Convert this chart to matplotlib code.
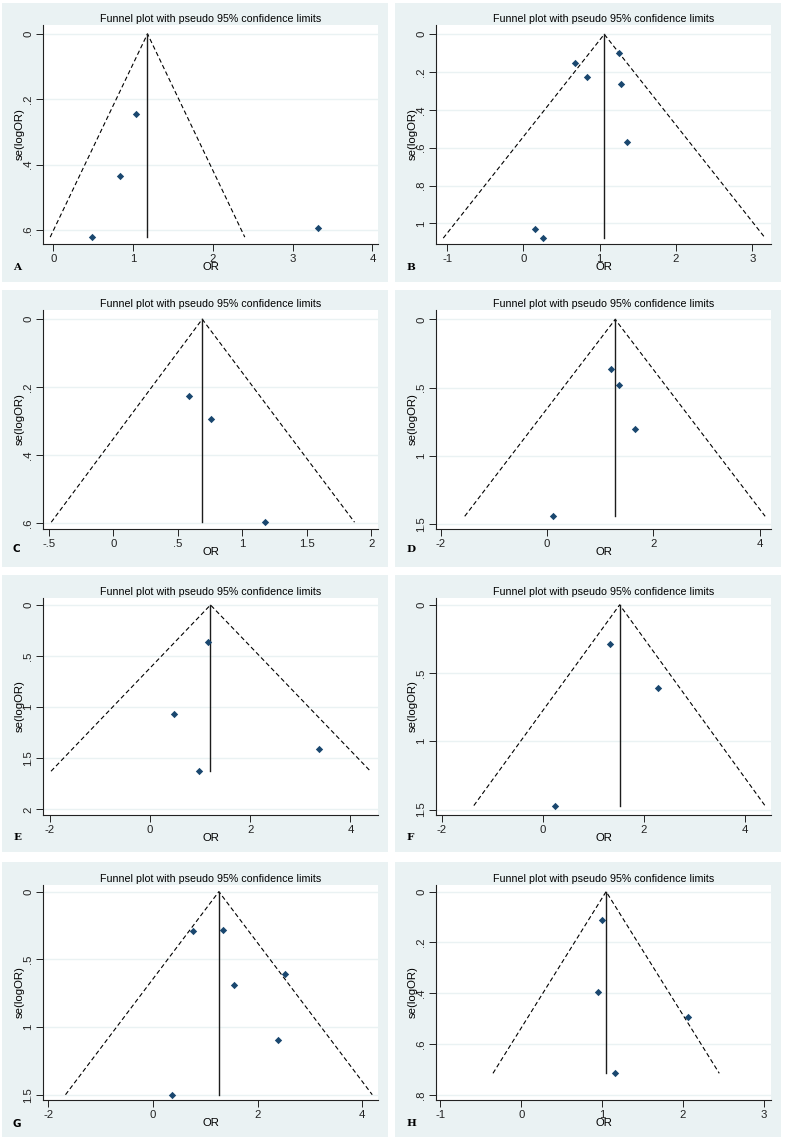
import numpy as np
import matplotlib
matplotlib.use("Agg")
import matplotlib.pyplot as plt
from matplotlib.patches import Rectangle
from matplotlib.ticker import FuncFormatter

plt.rcParams["font.family"] = ["Liberation Sans", "DejaVu Sans"]

# --- data (OR, se(logOR)) ---
a_or = [0.49, 0.84, 1.04, 3.32]
a_se = [0.622, 0.434, 0.246, 0.593]
b_or = [0.67, 0.84, 1.25, 1.28, 1.36, 0.15, 0.26]
b_se = [0.153, 0.226, 0.100, 0.261, 0.570, 1.032, 1.078]
c_or = [0.585, 0.76, 1.18]
c_se = [0.226, 0.293, 0.597]
d_or = [1.21, 1.35, 1.66, 0.11]
d_se = [0.366, 0.481, 0.800, 1.441]
e_or = [1.17, 0.49, 0.99, 3.38]
e_se = [0.365, 1.063, 1.627, 1.412]
f_or = [1.33, 2.28, 0.23]
f_se = [0.290, 0.609, 1.471]
g_or = [0.77, 1.33, 2.52, 1.55, 2.38, 0.37]
g_se = [0.290, 0.285, 0.607, 0.690, 1.096, 1.497]
h_or = [1.00, 0.95, 2.06, 1.16]
h_se = [0.110, 0.396, 0.494, 0.715]

# pooled estimate (vertical line) and pseudo 95% limits at the largest se
centers = [1.18, 1.06, 0.69, 1.28, 1.21, 1.52, 1.26, 1.05]
se_max = [0.622, 1.078, 0.597, 1.441, 1.627, 1.471, 1.497, 0.715]
funnel_lo = [-0.04, -1.05, -0.48, -1.55, -1.97, -1.37, -1.67, -0.35]
funnel_hi = [2.40, 3.17, 1.87, 4.10, 4.40, 4.40, 4.19, 2.45]

xticks = [[0, 1, 2, 3, 4], [-1, 0, 1, 2, 3], [-0.5, 0, 0.5, 1, 1.5, 2],
          [-2, 0, 2, 4], [-2, 0, 2, 4], [-2, 0, 2, 4], [-2, 0, 2, 4],
          [-1, 0, 1, 2, 3]]
yticks = [[0, 0.2, 0.4, 0.6], [0, 0.2, 0.4, 0.6, 0.8, 1], [0, 0.2, 0.4, 0.6],
          [0, 0.5, 1, 1.5], [0, 0.5, 1, 1.5, 2], [0, 0.5, 1, 1.5],
          [0, 0.5, 1, 1.5], [0, 0.2, 0.4, 0.6, 0.8]]
xlims = [(-0.13, 4.07), (-1.145, 3.245), (-0.544, 2.052), (-2.09, 4.21),
         (-2.13, 4.55), (-2.12, 4.52), (-2.10, 4.30), (-1.055, 3.09)]
ylims = [(0.643, -0.027), (1.109, -0.049), (0.617, -0.027), (1.534, -0.069),
         (2.055, -0.068), (1.54, -0.05), (1.536, -0.049), (0.82, -0.026)]
letters = ["A", "B", "C", "D", "E", "F", "G", "H"]

ors = [a_or, b_or, c_or, d_or, e_or, f_or, g_or, h_or]
ses = [a_se, b_se, c_se, d_se, e_se, f_se, g_se, h_se]

W, H = 786, 1142
bg = "#eaf2f3"
navy = "#1a476f"

fig = plt.figure(figsize=(W / 100, H / 100), dpi=100)
fig.patch.set_facecolor("white")

# panel boxes in pixels: (left, right, top, bottom)
panel_cols = [(2, 388), (395, 781)]
panel_rows = [(3, 282), (290, 567), (575, 852), (862, 1137)]
axes_cols = [(43, 378), (436, 771)]
axes_rows = [(25, 244), (310, 529), (598, 815), (885, 1100)]
letter_y = [268, 549, 838, 1124]


def stata_fmt(v, pos=None):
    s = f"{v:g}"
    return s.replace("0.", ".")


for i in range(8):
    r, c = divmod(i, 2)
    pl, pr = panel_cols[c]
    pt, pb = panel_rows[r]
    fig.patches.append(Rectangle((pl / W, 1 - pb / H), (pr - pl) / W, (pb - pt) / H,
                                 transform=fig.transFigure, facecolor=bg,
                                 edgecolor="none", zorder=-5))
    al, ar = axes_cols[c]
    at, ab = axes_rows[r]
    ax = fig.add_axes([al / W, 1 - ab / H, (ar - al) / W, (ab - at) / H])
    ax.set_zorder(2)
    ax.set_facecolor("white")

    # funnel limits and pooled estimate
    ax.plot([funnel_lo[i], centers[i], funnel_hi[i]], [se_max[i], 0, se_max[i]],
            color="black", lw=0.8, linestyle=(0, (4, 2.5)), zorder=3)
    ax.plot([centers[i], centers[i]], [0, se_max[i]], color="#1c1c1c", lw=1.0, zorder=3)
    ax.scatter(ors[i], ses[i], marker="D", s=14, color=navy, zorder=4, linewidths=0)

    ax.set_xlim(*xlims[i])
    ax.set_ylim(*ylims[i])
    ax.set_xticks(xticks[i])
    ax.set_yticks(yticks[i])
    ax.xaxis.set_major_formatter(FuncFormatter(stata_fmt))
    ax.yaxis.set_major_formatter(FuncFormatter(stata_fmt))
    ax.yaxis.grid(True, color=bg, lw=1.0, zorder=0)
    ax.set_axisbelow(True)
    for side in ["top", "right"]:
        ax.spines[side].set_visible(False)
    for side in ["left", "bottom"]:
        ax.spines[side].set_color("#222222")
        ax.spines[side].set_linewidth(0.8)
    ax.tick_params(direction="out", length=5, width=0.7, labelsize=8.2,
                   colors="#222222", pad=2)
    for lab in ax.get_yticklabels():
        lab.set_rotation(90)
        lab.set_va("center")
    ax.set_xlabel("OR", fontsize=8.2, labelpad=-1)
    ax.set_ylabel("se(logOR)", fontsize=8.2, labelpad=-1)
    ax.set_title("Funnel plot with pseudo 95% confidence limits", fontsize=7.7, pad=2)

    fam = "DejaVu Sans" if letters[i] in ("C", "G") else "DejaVu Serif"
    fig.text((pl + 11) / W, 1 - letter_y[r] / H, letters[i], fontsize=7.5,
             fontweight="bold", family=fam, va="center", ha="left")

fig.savefig("out.png", dpi=100, facecolor="white")
